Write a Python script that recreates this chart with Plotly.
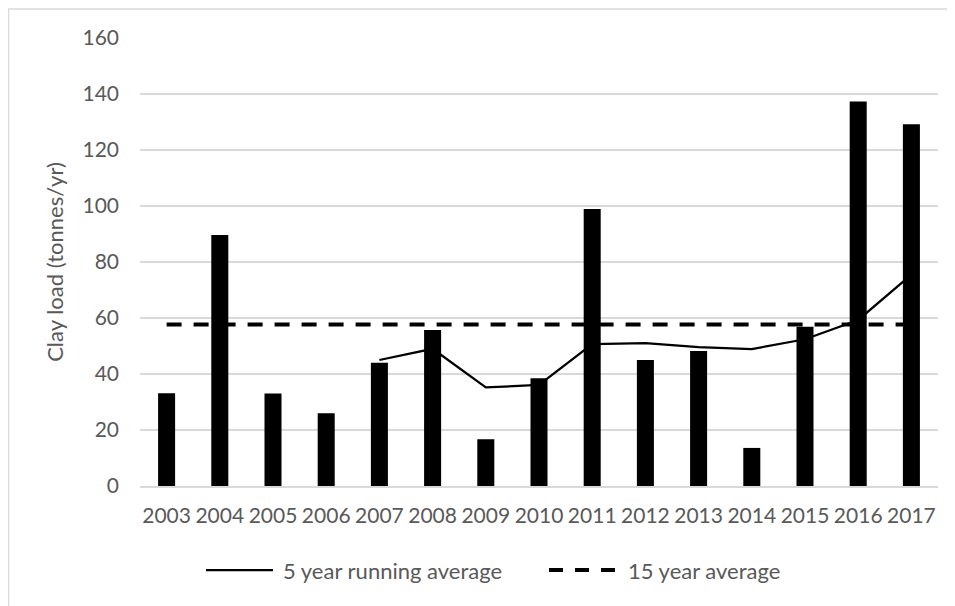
import plotly.graph_objects as go

years = ["2003", "2004", "2005", "2006", "2007", "2008", "2009", "2010",
         "2011", "2012", "2013", "2014", "2015", "2016", "2017"]
clay_load = [33.1, 89.6, 33.0, 26.0, 44.0, 55.7, 16.7, 38.5,
             98.9, 45.0, 48.2, 13.6, 56.9, 137.3, 129.2]
running_avg_5yr = [None, None, None, None, 45.0, 49.0, 35.2, 36.1,
                   50.7, 51.0, 49.6, 48.9, 52.4, 59.3, 75.5]
avg_15yr = [57.7, 57.7, 57.7, 57.7, 57.7, 57.7, 57.7, 57.7,
            57.7, 57.7, 57.7, 57.7, 57.7, 57.7, 57.7]
y_ticks = [0, 20, 40, 60, 80, 100, 120, 140, 160]

# page is offset by the 8px body margin
OFF = 8
W, H = 955 - OFF, 606 - OFF
L, R, T, B = 140 - OFF, 938 - OFF, 38 - OFF, 486 - OFF
TXT = "#595959"
GRID = "#d9d9d9"
FONT = "Lato, 'Open Sans', sans-serif"
FS = 21


def px(x):
    return (x - OFF - L) / (R - L)


def py(y):
    return (B - (y - OFF)) / (B - T)


fig = go.Figure()
fig.add_trace(go.Bar(x=years, y=clay_load, marker=dict(color="black", line=dict(width=0)),
                     showlegend=False, name="Clay load"))
fig.add_trace(go.Scatter(x=years, y=running_avg_5yr, mode="lines",
                         line=dict(color="black", width=2.25), showlegend=False,
                         name="5 year running average"))
fig.add_trace(go.Scatter(x=years, y=avg_15yr, mode="lines",
                         line=dict(color="black", width=4, dash="15px,12px"),
                         showlegend=False, name="15 year average"))

shapes = [
    # chart border (left and top visible)
    dict(type="line", xref="paper", yref="paper", x0=px(8.5), x1=px(8.5), y0=py(9), y1=py(640),
         line=dict(color=GRID, width=1.5)),
    dict(type="line", xref="paper", yref="paper", x0=px(8), x1=px(990), y0=py(9), y1=py(9),
         line=dict(color=GRID, width=1.5)),
    # legend symbols
    dict(type="line", xref="paper", yref="paper", x0=px(206), x1=px(273), y0=py(570), y1=py(570),
         line=dict(color="black", width=2.25)),
    dict(type="line", xref="paper", yref="paper", x0=px(549), x1=px(620), y0=py(570), y1=py(570),
         line=dict(color="black", width=4, dash="14px,12px")),
]
annotations = [
    dict(text="5 year running average", xref="paper", yref="paper", x=px(281), y=py(570),
         xanchor="left", yanchor="middle", showarrow=False, font=dict(size=22, color=TXT, family=FONT)),
    dict(text="15 year average", xref="paper", yref="paper", x=px(626), y=py(570),
         xanchor="left", yanchor="middle", showarrow=False, font=dict(size=22, color=TXT, family=FONT)),
]

fig.update_layout(
    width=W, height=H,
    margin=dict(l=L, r=W - R, t=T, b=H - B),
    paper_bgcolor="white", plot_bgcolor="white",
    font=dict(family=FONT, size=FS, color=TXT),
    bargap=0.68,
    showlegend=False,
    shapes=shapes,
    annotations=annotations,
    xaxis=dict(type="category", showgrid=False, showline=True, linecolor=GRID, linewidth=2,
               ticks="", tickfont=dict(size=FS, color=TXT), ticklabelstandoff=10),
    yaxis=dict(range=[0, 160], tickvals=y_ticks, showgrid=True, gridcolor=GRID, gridwidth=2,
               zeroline=False, showline=False, ticks="", tickfont=dict(size=FS, color=TXT),
               ticklabelstandoff=20,
               title=dict(text="Clay load (tonnes/yr)", font=dict(size=22, color=TXT), standoff=12)),
)

fig.write_html("out.html")
